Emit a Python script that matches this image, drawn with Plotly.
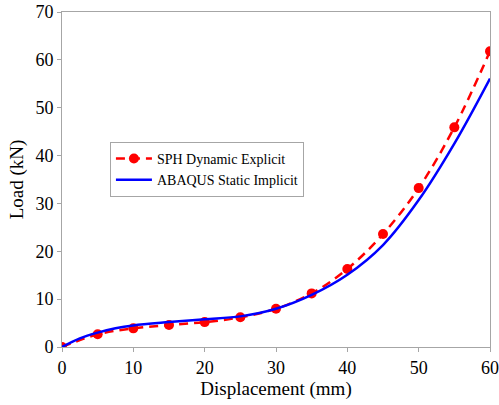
import plotly.graph_objects as go

sph_x = [0, 5, 10, 15, 20, 25, 30, 35, 40, 45, 50, 55, 60]
sph_y = [0, 2.65, 3.9, 4.6, 5.2, 6.2, 8.0, 11.2, 16.3, 23.6, 33.2, 45.9, 61.8]

aba_x = [0, 2.5, 5, 7.5, 10, 15, 20, 25, 30, 35, 40, 45, 50, 55, 60]
aba_y = [0, 1.8, 3.0, 3.9, 4.5, 5.2, 5.8, 6.4, 8.0, 10.9, 15.1, 21.3, 30.7, 42.5, 56.1]

font = "Liberation Serif, Times New Roman, serif"

fig = go.Figure()
fig.add_trace(go.Scatter(
    x=sph_x, y=sph_y, mode="lines+markers", name="SPH Dynamic Explicit",
    line=dict(color="#ff0000", width=2.5, dash="9px,6px", shape="spline"),
    marker=dict(color="#ff0000", size=10, symbol="circle")))
fig.add_trace(go.Scatter(
    x=aba_x, y=aba_y, mode="lines", name="ABAQUS Static Implicit",
    line=dict(color="#0000ff", width=2.5, shape="spline")))

axis_common = dict(showline=True, linecolor="#a6a6a6", linewidth=1, mirror=True,
                   showgrid=False, zeroline=False, ticks="outside", ticklen=4,
                   tickcolor="#a6a6a6", automargin=False,
                   tickfont=dict(family=font, size=18, color="black"))
fig.update_xaxes(range=[0, 60], dtick=10, title=dict(text="Displacement (mm)",
                 font=dict(family=font, size=19, color="black"), standoff=2), **axis_common)
fig.update_yaxes(range=[0, 70], dtick=10, title=dict(text="Load (kN)",
                 font=dict(family=font, size=19, color="black"), standoff=6), **axis_common)

fig.update_layout(
    width=499, height=405,
    margin=dict(l=62, r=9, t=12, b=58),
    plot_bgcolor="white", paper_bgcolor="white",
    showlegend=True,
    legend=dict(x=0.112, y=0.612, xanchor="left", yanchor="top",
                bgcolor="white", bordercolor="#a6a6a6", borderwidth=1,
                font=dict(family=font, size=14, color="black"),
                tracegroupgap=0, itemwidth=36),
)
fig.write_html("out.html", config={"displayModeBar": False},
               post_script="document.body.style.margin='0';")
